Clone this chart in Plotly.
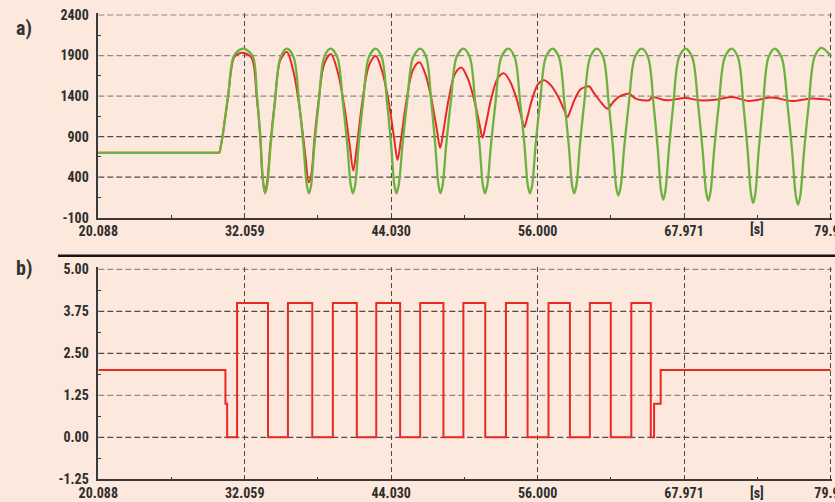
import plotly.graph_objects as go

# ---------------- data ----------------
# panel a) green reference signal
t_green_flat = [20.088, 30.00]
v_green_flat = [700, 700]
t_green = [30.00, 30.24, 30.70, 31.19, 31.92,
           32.69, 33.06, 33.34, 33.52, 33.72, 33.90, 34.17, 34.53, 34.98, 35.52,
           36.06, 36.50, 36.86, 37.13, 37.31, 37.49, 37.75, 38.11, 38.55, 39.08,
           39.63, 40.08, 40.45, 40.72, 40.90, 41.09, 41.36, 41.73, 42.20, 42.75,
           43.26, 43.69, 44.03, 44.29, 44.46, 44.65, 44.95, 45.33, 45.82, 46.40,
           46.90, 47.31, 47.64, 47.89, 48.05, 48.24, 48.52, 48.90, 49.37, 49.93,
           50.46, 50.90, 51.26, 51.52, 51.70, 51.89, 52.18, 52.56, 53.03, 53.60,
           54.13, 54.57, 54.93, 55.19, 55.37, 55.56, 55.83, 56.20, 56.67, 57.22,
           57.75, 58.19, 58.55, 58.81, 58.99, 59.18, 59.45, 59.82, 60.29, 60.84,
           61.37, 61.81, 62.16, 62.42, 62.60, 62.79, 63.08, 63.46, 63.94, 64.51,
           65.04, 65.48, 65.83, 66.09, 66.27, 66.45, 66.73, 67.09, 67.55, 68.10,
           68.65, 69.12, 69.49, 69.77, 69.95, 70.14, 70.43, 70.81, 71.29, 71.86,
           72.39, 72.83, 73.18, 73.44, 73.62, 73.80, 74.06, 74.42, 74.86, 75.39,
           75.96, 76.44, 76.82, 77.10, 77.29, 77.48, 77.77, 78.15, 78.63, 79.20,
           79.94]
v_green = [700, 900, 1400, 1900, 1985,
           1900, 1400, 900, 420, 200, 307, 789, 1325, 1878, 1985,
           1878, 1325, 789, 307, 200, 307, 789, 1325, 1878, 1985,
           1878, 1325, 789, 307, 200, 307, 789, 1325, 1878, 1985,
           1878, 1325, 789, 307, 200, 307, 789, 1325, 1878, 1985,
           1878, 1325, 789, 307, 200, 307, 789, 1325, 1878, 1985,
           1878, 1325, 789, 307, 200, 307, 789, 1325, 1878, 1985,
           1878, 1325, 789, 307, 200, 307, 789, 1325, 1878, 1985,
           1878, 1325, 789, 307, 200, 307, 789, 1325, 1878, 1985,
           1876, 1314, 770, 281, 172, 281, 770, 1314, 1876, 1985,
           1873, 1296, 737, 235, 123, 235, 737, 1296, 1873, 1985,
           1873, 1291, 729, 223, 110, 223, 729, 1291, 1873, 1985,
           1871, 1281, 710, 196, 82, 196, 710, 1281, 1871, 1985,
           1870, 1273, 696, 176, 61, 177, 699, 1279, 1879, 1995,
           1900]

# panel a) red measured response
t_red_flat = [20.088, 30.00]
v_red_flat = [700, 700]
t_red = [30.00, 30.24, 30.70, 31.19, 31.60, 31.92,
         32.62, 33.03, 33.32, 33.50, 33.69,
         33.88, 34.15, 34.51, 34.96, 35.50,
         36.04, 36.57, 37.02, 37.29,
         37.50, 37.76, 38.12, 38.56, 39.10,
         39.65, 40.20, 40.66, 40.93,
         41.21, 41.67, 42.22, 42.77,
         43.30, 43.84, 44.28, 44.55,
         44.82, 45.27, 45.80, 46.34,
         46.85, 47.35, 47.78, 48.03,
         48.29, 48.72, 49.24, 49.76,
         50.28, 50.80, 51.24, 51.50,
         51.76, 52.20, 52.73, 53.25,
         53.75, 54.25, 54.66, 54.91,
         55.15, 55.56, 56.05, 56.54,
         57.11, 57.68, 58.16, 58.44,
         58.67, 59.05, 59.51, 59.97, 60.21,
         60.60, 61.20, 61.70,
         62.20, 62.70, 63.24, 63.48,
         64.02, 65.11, 65.38, 66.47, 68.10, 69.19, 70.68,
         71.90, 73.27, 75.17, 76.80, 78.43, 79.94]
v_red = [700, 900, 1400, 1880, 1925, 1935,
         1870, 1400, 900, 420, 215,
         330, 800, 1320, 1840, 1945,
         1704, 1221, 659, 337,
         430, 880, 1370, 1800, 1920,
         1704, 1272, 768, 480,
         763, 1328, 1780, 1893,
         1701, 1317, 868, 612,
         853, 1334, 1720, 1816,
         1658, 1341, 971, 760,
         958, 1355, 1673, 1752,
         1622, 1363, 1060, 887,
         1046, 1363, 1617, 1680,
         1581, 1382, 1150, 1018,
         1134, 1365, 1550, 1596,
         1528, 1391, 1232, 1141,
         1216, 1365, 1485, 1515, 1521,
         1440, 1320, 1245,
         1330, 1395, 1425, 1431,
         1369, 1348, 1389, 1348, 1377, 1348, 1357,
         1389, 1339, 1381, 1339, 1369, 1350]

# panel b) control signal (step)
t_ctrl = [20.088, 30.48, 30.62, 31.43, 33.96, 35.59, 37.58, 39.26, 41.22,
          42.81, 44.76, 46.40, 48.30, 49.93, 51.72, 53.41, 55.18, 56.89,
          58.64, 60.27, 61.98, 63.66, 65.25, 65.52, 66.06, 79.94]
v_ctrl = [2, 1, 0, 4, 0, 4, 0, 4, 0,
          4, 0, 4, 0, 4, 0, 4, 0, 4,
          0, 4, 0, 4, 0, 1, 2, 2]

# axes ticks
x_ticks = [20.088, 32.059, 44.030, 56.000, 67.971, 79.942]
x_tick_text = ["20.088", "32.059", "44.030", "56.000", "67.971", "79.94"]
x_minor = [26.0735, 38.0445, 50.015, 61.9855, 73.9565]
ya_ticks = [-100, 400, 900, 1400, 1900, 2400]
ya_text = ["-100", "400", "900", "1400", "1900", "2400"]
ya_minor = [150, 650, 1150, 1650, 2150]
yb_ticks = [-1.25, 0, 1.25, 2.5, 3.75, 5]
yb_text = ["-1.25", "0.00", "1.25", "2.50", "3.75", "5.00"]
yb_minor = [-0.625, 0.625, 1.875, 3.125, 4.375]

# ---------------- styling ----------------
BG = "#fce8dc"
GRID_DARK = "#4c4c4c"
GRID_LIGHT = "#8f8a87"
AXIS = "#3a3a3a"
RED = "#e82a25"
GREEN = "#6cb23e"
FONT = "Roboto Condensed, Liberation Sans Narrow, DejaVu Sans Condensed, sans-serif"
tickfont = dict(family=FONT, size=14, color="#2e2e2e", weight="bold")
# tone of each horizontal grid line (as it appears in the scan)
ya_grid_tone = [None, GRID_DARK, GRID_DARK, GRID_LIGHT, GRID_LIGHT, GRID_LIGHT]
yb_grid_tone = [None, GRID_DARK, GRID_LIGHT, GRID_DARK, GRID_DARK, GRID_LIGHT]

W, H = 835, 502
def px_x(p):
    return p / W
def px_y(p):
    return (H - p) / H

fig = go.Figure()
fig.add_trace(go.Scatter(x=t_red_flat, y=v_red_flat, mode="lines",
                         line=dict(color=RED, width=2), xaxis="x", yaxis="y",
                         showlegend=False, hoverinfo="skip"))
fig.add_trace(go.Scatter(x=t_red, y=v_red, mode="lines",
                         line=dict(color=RED, width=2, shape="spline", smoothing=0.9),
                         xaxis="x", yaxis="y", showlegend=False))
fig.add_trace(go.Scatter(x=t_green_flat, y=v_green_flat, mode="lines",
                         line=dict(color=GREEN, width=2.3), xaxis="x", yaxis="y",
                         showlegend=False, hoverinfo="skip"))
fig.add_trace(go.Scatter(x=t_green, y=v_green, mode="lines",
                         line=dict(color=GREEN, width=2.3, shape="spline", smoothing=0.9),
                         xaxis="x", yaxis="y", showlegend=False))
fig.add_trace(go.Scatter(x=t_ctrl, y=v_ctrl, mode="lines",
                         line=dict(color=RED, width=2, shape="hv"),
                         xaxis="x2", yaxis="y2", showlegend=False))

x_dom = [px_x(98.3), px_x(832.0)]
x_rng = [20.088, 80.065]
common_x = dict(
    domain=x_dom, range=x_rng, tickmode="array", tickvals=x_ticks,
    ticktext=x_tick_text, tickfont=tickfont, showgrid=True, gridcolor=GRID_DARK,
    griddash="5px,3px", gridwidth=1, showline=True, linecolor=AXIS, linewidth=1.5,
    ticks="inside", ticklen=3, tickcolor=AXIS, zeroline=False,
    automargin=False, ticklabeloverflow="allow",
    minor=dict(tickmode="array", tickvals=x_minor, ticks="inside", ticklen=3,
               tickcolor=AXIS, showgrid=False),
)
common_y = dict(
    tickmode="array", tickfont=tickfont, showgrid=False,
    showline=True, linecolor=AXIS, linewidth=1.5,
    ticks="", zeroline=False, ticklabelstandoff=5, automargin=False,
    ticklabeloverflow="allow",
)

shapes = [dict(type="line", xref="paper", yref="paper",
               x0=px_x(58), x1=1.0, y0=px_y(255.7), y1=px_y(255.7),
               line=dict(color="#151515", width=2.5))]
for val, tone in zip(ya_ticks, ya_grid_tone):
    if tone:
        shapes.append(dict(type="line", xref="x domain", yref="y", x0=0, x1=1,
                           y0=val, y1=val, layer="below",
                           line=dict(color=tone, width=1.2, dash="6px,3px")))
for val, tone in zip(yb_ticks, yb_grid_tone):
    if tone:
        shapes.append(dict(type="line", xref="x2 domain", yref="y2", x0=0, x1=1,
                           y0=val, y1=val, layer="below",
                           line=dict(color=tone, width=1.2, dash="6px,3px")))

fig.update_layout(
    width=W, height=H, margin=dict(l=0, r=0, t=0, b=0, autoexpand=False),
    paper_bgcolor=BG, plot_bgcolor=BG, showlegend=False,
    xaxis=dict(**common_x, anchor="y"),
    yaxis=dict(**common_y, anchor="x",
               domain=[px_y(217.7), px_y(12.97)], range=[-100, 2425],
               tickvals=ya_ticks, ticktext=ya_text,
               minor=dict(tickmode="array", tickvals=ya_minor, ticks="inside",
                          ticklen=3, tickcolor=AXIS, showgrid=False)),
    xaxis2=dict(**common_x, anchor="y2"),
    yaxis2=dict(**common_y, anchor="x2",
                domain=[px_y(479.3), px_y(267.3)], range=[-1.25, 5.06],
                tickvals=yb_ticks, ticktext=yb_text,
                minor=dict(tickmode="array", tickvals=yb_minor, ticks="inside",
                           ticklen=3, tickcolor=AXIS, showgrid=False)),
    shapes=shapes,
    annotations=[
        dict(text="a)", xref="paper", yref="paper", x=px_x(24), y=px_y(28),
             xanchor="center", yanchor="middle", showarrow=False,
             font=dict(family=FONT, size=20, color="#333", weight="bold")),
        dict(text="b)", xref="paper", yref="paper", x=px_x(24), y=px_y(268),
             xanchor="center", yanchor="middle", showarrow=False,
             font=dict(family=FONT, size=20, color="#333", weight="bold")),
        dict(text="[s]", xref="x", yref="paper", x=73.9565, y=px_y(217.7),
             yanchor="top", yshift=-1, showarrow=False, font=tickfont),
        dict(text="[s]", xref="x2", yref="paper", x=73.9565, y=px_y(479.3),
             yanchor="top", yshift=-4, showarrow=False, font=tickfont),
    ],
)

fig.write_html("out.html")
